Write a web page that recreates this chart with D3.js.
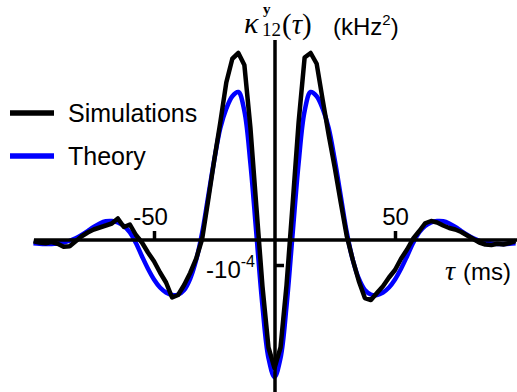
<!DOCTYPE html>
<html>
<head>
<meta charset="utf-8">
<script src="https://cdn.jsdelivr.net/npm/d3@7/dist/d3.min.js"></script>
<style>
  html, body { margin: 0; padding: 0; background: #fff; }
  svg { display: block; }
</style>
</head>
<body>
<script>
// Lag tau (ms)
const tau = [
  -100, -97.5, -95, -92.5, -90, -87.5, -85, -82.5, -80, -77.5,
  -75, -72.5, -70, -67.5, -65, -62.5, -60, -57.5, -55, -52.5,
  -50, -47.5, -45, -42.5, -40, -37.5, -35, -32.5, -30, -27.5,
  -25, -22.5, -20, -17.5, -15, -12.5, -10, -7.5, -5, -2.5,
  0,
  2.5, 5, 7.5, 10, 12.5, 15, 17.5, 20, 22.5, 25,
  27.5, 30, 32.5, 35, 37.5, 40, 42.5, 45, 47.5, 50,
  52.5, 55, 57.5, 60, 62.5, 65, 67.5, 70, 72.5, 75,
  77.5, 80, 82.5, 85, 87.5, 90, 92.5, 95, 97.5, 100
];

// Cross-covariance kappa^y_12 in units of 1e-4 kHz^2
const simulations = [
  -0.05, -0.10, -0.13, -0.08, -0.15, -0.27, -0.25, -0.05, 0.15, 0.30,
  0.42, 0.50, 0.58, 0.66, 0.86, 0.52, 0.62, 0.20, -0.10, -0.50,
  -0.85, -1.30, -1.70, -2.30, -2.20, -1.80, -1.32, -0.75, 0.05, 1.60,
  3.20, 4.70, 6.30, 7.25, 7.48, 7.00, 4.50, 1.30, -1.85, -4.30,
  -5.12,
  -4.30, -1.80, 1.40, 4.70, 7.30, 7.48, 7.05, 5.60, 4.20, 2.90,
  1.50, 0.15, -0.80, -1.65, -2.32, -2.40, -2.12, -1.85, -1.50, -1.20,
  -0.75, -0.38, 0.05, 0.35, 0.67, 0.76, 0.70, 0.58, 0.48, 0.42,
  0.32, 0.18, 0.04, -0.10, -0.18, -0.20, -0.15, -0.18, -0.12, -0.04
];

const theory = [
  -0.13, -0.15, -0.16, -0.16, -0.14, -0.10, -0.03, 0.07, 0.20, 0.36,
  0.52, 0.66, 0.75, 0.76, 0.70, 0.56, 0.30, -0.12, -0.65, -1.15,
  -1.58, -1.90, -2.10, -2.20, -2.18, -2.00, -1.55, -0.80, 0.30, 1.75,
  3.20, 4.47, 5.25, 5.75, 5.92, 5.16, 3.07, 0.22, -2.63, -4.72,
  -5.48,
  -4.72, -2.63, 0.22, 3.07, 5.16, 5.92, 5.75, 5.25, 4.47, 3.20,
  1.75, 0.30, -0.80, -1.55, -2.00, -2.18, -2.20, -2.10, -1.90, -1.58,
  -1.15, -0.65, -0.12, 0.30, 0.56, 0.70, 0.76, 0.75, 0.66, 0.52,
  0.36, 0.20, 0.07, -0.03, -0.10, -0.14, -0.16, -0.16, -0.15, -0.13
];

const UNIT = 1e-4;                 // kHz^2 per data unit
const xTicks = [-50, 50];
const xTickLabels = ["-50", "50"];
const yTicks = [-1e-4];
const yTickBase = ["-10"];
const yTickExp = ["-4"];
const seriesNames = ["Simulations", "Theory"];
const seriesColors = ["#000000", "#0000ff"];

const W = 517, H = 392;
const svg = d3.select("body").append("svg")
  .attr("width", W).attr("height", H)
  .attr("viewBox", `0 0 ${W} ${H}`);
svg.append("rect").attr("width", W).attr("height", H).attr("fill", "#fff");

const x = d3.scaleLinear().domain([-100, 100]).range([33.5, 515.5]);
const y = d3.scaleLinear().domain([-6e-4, 8e-4]).range([390, 40]);
const x0 = x(0) + 0.5;   // vertical axis position
const y0 = y(0);         // horizontal axis position

const sans = "'Liberation Sans', Arial, sans-serif";
const serif = "'Liberation Serif', 'DejaVu Serif', serif";

// Curves
const theoryPts = tau.map((t, i) => [t, theory[i] * UNIT]);
const simPts = tau.map((t, i) => [t, simulations[i] * UNIT]);

svg.append("path")
  .datum(theoryPts)
  .attr("fill", "none")
  .attr("stroke", seriesColors[1])
  .attr("stroke-width", 4.5)
  .attr("stroke-linejoin", "round")
  .attr("d", d3.line().x(d => x(d[0])).y(d => y(d[1])).curve(d3.curveCatmullRom.alpha(0.5)));

svg.append("path")
  .datum(simPts)
  .attr("fill", "none")
  .attr("stroke", seriesColors[0])
  .attr("stroke-width", 4.5)
  .attr("stroke-linejoin", "round")
  .attr("d", d3.line().x(d => x(d[0])).y(d => y(d[1])));

// Axes crossing at the origin
svg.append("line")
  .attr("x1", 34).attr("x2", W).attr("y1", y0).attr("y2", y0)
  .attr("stroke", "#000").attr("stroke-width", 3.5);
svg.append("line")
  .attr("x1", x0).attr("x2", x0).attr("y1", 40).attr("y2", H)
  .attr("stroke", "#000").attr("stroke-width", 3.5);

const xAxis = d3.axisTop(x)
  .tickValues(xTicks)
  .tickFormat((d, i) => xTickLabels[i])
  .tickSizeInner(9).tickSizeOuter(0).tickPadding(6);
const gx = svg.append("g").attr("transform", `translate(0,${y0})`).call(xAxis);
gx.select(".domain").remove();
gx.selectAll(".tick line").attr("stroke", "#000").attr("stroke-width", 3.5);
gx.selectAll(".tick text")
  .attr("fill", "#000")
  .style("font-family", sans).style("font-size", "24px")
  .attr("dx", d => d < 0 ? -4 : 0);

const yAxis = d3.axisRight(y)
  .tickValues(yTicks)
  .tickFormat("")
  .tickSizeInner(9).tickSizeOuter(0);
const gy = svg.append("g").attr("transform", `translate(${x0},0)`).call(yAxis);
gy.select(".domain").remove();
gy.selectAll(".tick line").attr("stroke", "#000").attr("stroke-width", 3.5);

// y tick label written as a power of ten, left of the axis
yTicks.forEach((v, i) => {
  const t = svg.append("text")
    .attr("x", 255).attr("y", y(v) + 13)
    .attr("text-anchor", "end")
    .style("font-family", sans).style("font-size", "24px").attr("fill", "#000");
  t.append("tspan").text(yTickBase[i]);
  t.append("tspan").attr("dy", -11).style("font-size", "16px").text(yTickExp[i]);
});

// Vertical axis title: kappa with bold superscript y and subscript 12
svg.append("text").attr("x", 244).attr("y", 33)
  .style("font-family", serif).style("font-style", "italic").style("font-size", "30px")
  .text("κ");
svg.append("text").attr("x", 263).attr("y", 14)
  .style("font-family", serif).style("font-weight", "bold").style("font-size", "15px")
  .text("y");
svg.append("text").attr("x", 262).attr("y", 36)
  .style("font-family", serif).style("font-size", "19px")
  .text("12");
const tt = svg.append("text").attr("x", 282).attr("y", 34)
  .style("font-family", serif).style("font-size", "29px");
tt.append("tspan").text("(");
tt.append("tspan").style("font-style", "italic").text("τ");
tt.append("tspan").text(")");

const unitT = svg.append("text").attr("x", 333).attr("y", 35)
  .style("font-family", sans).style("font-size", "24px");
unitT.append("tspan").text("(kHz");
unitT.append("tspan").attr("dy", -10).style("font-size", "15px").text("2");
unitT.append("tspan").attr("dy", 10).text(")");

// Horizontal axis title
svg.append("text").attr("x", 445).attr("y", 280)
  .style("font-family", serif).style("font-style", "italic").style("font-size", "28px")
  .text("τ");
svg.append("text").attr("x", 463).attr("y", 280)
  .style("font-family", sans).style("font-size", "24px")
  .text("(ms)");

// Legend
const legendY = [113, 156];
seriesNames.forEach((name, i) => {
  svg.append("line")
    .attr("x1", 10).attr("x2", 54).attr("y1", legendY[i]).attr("y2", legendY[i])
    .attr("stroke", seriesColors[i]).attr("stroke-width", 5.5);
  svg.append("text")
    .attr("x", 68).attr("y", legendY[i] + 8.5)
    .style("font-family", sans).style("font-size", "25px").attr("fill", "#000")
    .text(name);
});
</script>
</body>
</html>
